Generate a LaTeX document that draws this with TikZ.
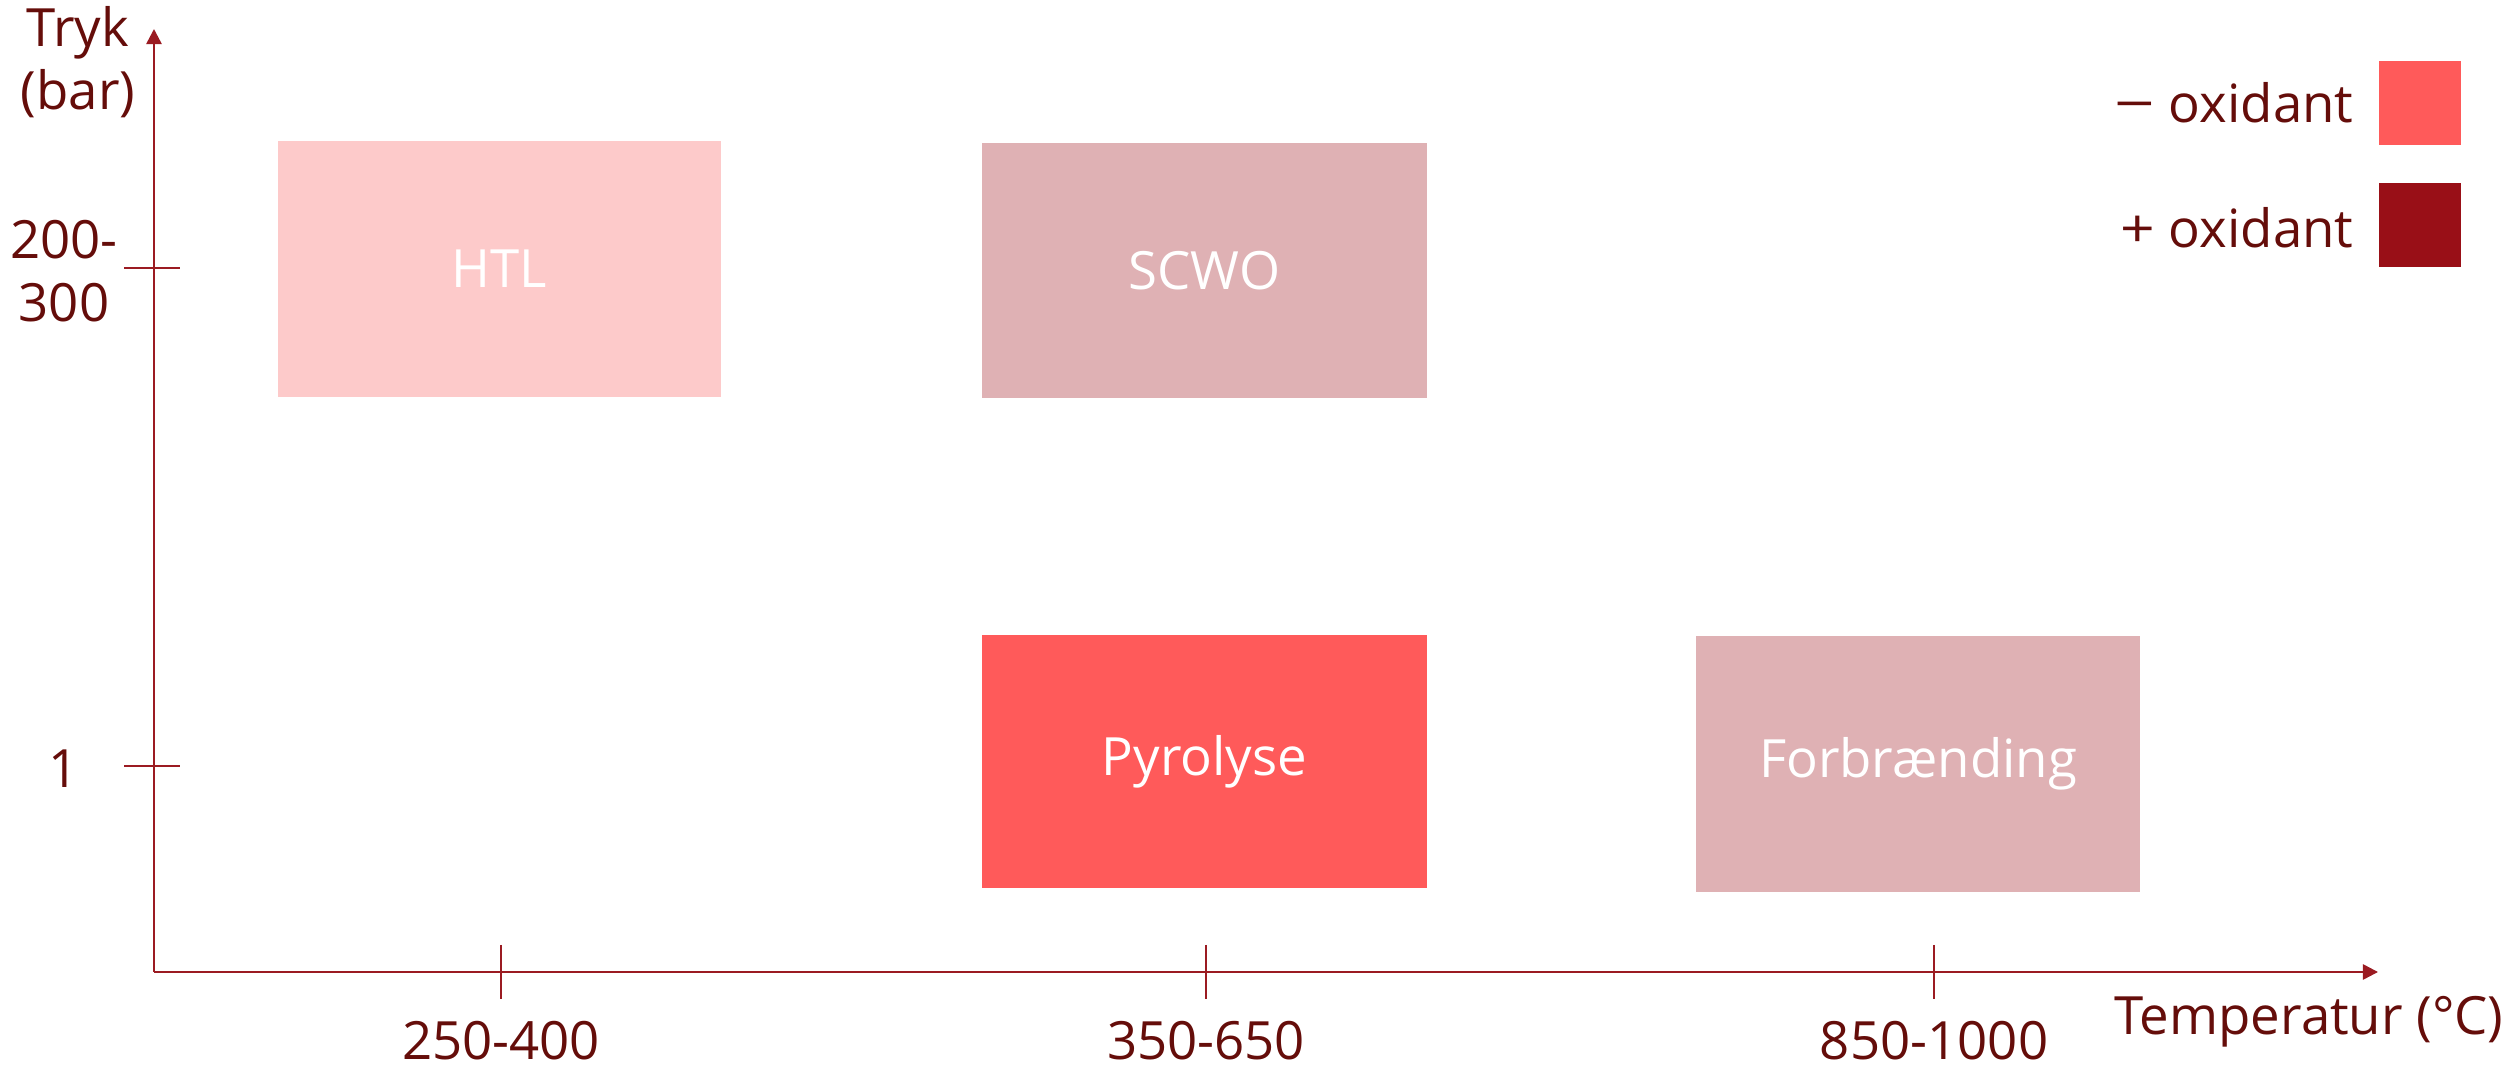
\documentclass[tikz,border=0pt]{standalone}
\usepackage{fontspec}
\usepackage{graphicx}
\setmainfont{Open Sans}
\usetikzlibrary{arrows.meta}
\definecolor{txt}{HTML}{650D0A}
\definecolor{axis}{HTML}{9B1B22}
\definecolor{htl}{HTML}{FDCACA}
\definecolor{mauve}{HTML}{DFB1B4}
\definecolor{pyro}{HTML}{FF5A5A}
\definecolor{dark}{HTML}{990F17}
\tikzset{
  lbl/.style={text=txt, font=\fontsize{15}{18}\selectfont, inner sep=0pt},
  procbox/.style={inner sep=0pt, text=white, font=\fontsize{15}{18}\selectfont},
  axisline/.style={draw=axis, line width=0.7pt},
  legbox/.style={inner sep=0pt, minimum width=0.82cm, minimum height=0.84cm}
}
\begin{document}
\begin{tikzpicture}[x=0.01cm, y=-0.01cm]
\useasboundingbox (0,0) rectangle (2519,1071);
% axes
\coordinate (O) at (154,972);
\coordinate (ytop) at (154,29);
\coordinate (xend) at (2378,972);
\draw[axisline, -{Triangle[length=4.3pt,width=4.3pt]}] (O) -- (ytop);
\draw[axisline, -{Triangle[length=4.3pt,width=4.3pt]}] (O) -- (xend);
% y ticks
\coordinate (ya1) at (124,268); \coordinate (yb1) at (180,268);
\coordinate (ya2) at (124,766); \coordinate (yb2) at (180,766);
\draw[axisline] (ya1) -- (yb1);
\draw[axisline] (ya2) -- (yb2);
% x ticks
\coordinate (xa1) at (501,945); \coordinate (xb1) at (501,999);
\coordinate (xa2) at (1206,945); \coordinate (xb2) at (1206,999);
\coordinate (xa3) at (1934,945); \coordinate (xb3) at (1934,999);
\draw[axisline] (xa1) -- (xb1);
\draw[axisline] (xa2) -- (xb2);
\draw[axisline] (xa3) -- (xb3);
% axis labels
\node[lbl, align=center] (ylab) at (78,62) {Tryk\\(bar)};
\node[lbl, align=center] (y200) at (64,271) {200-\\300};
\node[lbl] (y1) at (64,769) {1};
\node[lbl] (x1) at (501,1041) {250-400};
\node[lbl] (x2) at (1206,1041) {350-650};
\node[lbl] (x3) at (1934,1041) {850-1000};
\node[lbl] (xlab) at (2309,1022) {Temperatur (°C)};
% process boxes
\node[procbox, fill=htl, minimum width=4.43cm, minimum height=2.56cm] (htl) at (499.5,269) {HTL};
\node[procbox, fill=mauve, minimum width=4.45cm, minimum height=2.55cm] (scwo) at (1204.5,270.5) {SCWO};
\node[procbox, fill=pyro, minimum width=4.45cm, minimum height=2.53cm] (pyr) at (1204.5,761.5) {Pyrolyse};
\node[procbox, fill=mauve, minimum width=4.44cm, minimum height=2.56cm] (forb) at (1918,764) {Forbrænding};
% legend
\node[legbox, fill=pyro] (leg1) at (2420,103) {};
\node[legbox, fill=dark] (leg2) at (2420,225) {};
\node[lbl, anchor=east] (legt1) at (2354,103) {\scalebox{1.35}[1]{−} oxidant};
\node[lbl, anchor=east] (legt2) at (2354,228) {\scalebox{1.15}[1]{+} oxidant};
\end{tikzpicture}
\end{document}
